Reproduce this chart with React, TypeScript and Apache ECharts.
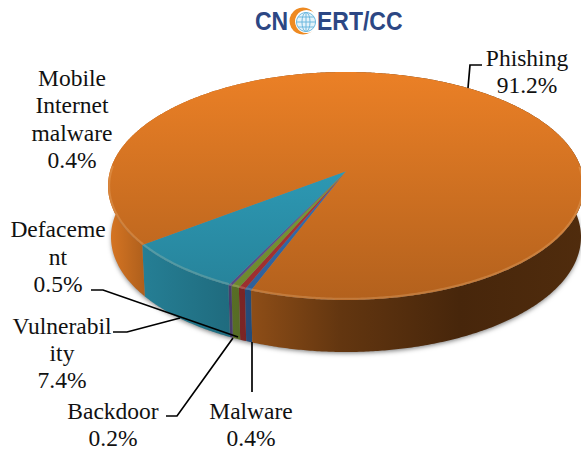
import React, { useEffect, useRef } from "react";
import * as echarts from "echarts";

// Slices, clockwise, starting at the front of the disc
const sliceNames = ["Malware", "Mobile Internet malware", "Defacement", "Backdoor", "Vulnerability", "Phishing"];
const sliceValues = [0.4, 0.4, 0.5, 0.2, 7.4, 91.2];
const sliceColors = ["#3C7DC8", "#C83C3C", "#8CAF3C", "#735FAA", "#32AAC8", "#EB8026"];

// Wrapped label lines as in the reference
const labelLines = [["Malware"], ["Mobile", "Internet", "malware"], ["Defaceme", "nt"], ["Backdoor"], ["Vulnerabil", "ity"], ["Phishing"]];

const W = 581, H = 450;
const FONT = '23.5px "Liberation Serif", "Times New Roman", serif';
const labelPos = [[251, 424.5], [72, 119], [58, 256.5], [113, 424.5], [62, 353], [527, 71.5]];
const leaders = [
  [[252, 342], [252, 392]],
  null,
  [[91, 290], [103, 290], [238, 337]],
  [[166, 416], [177, 416], [233, 338]],
  [[113, 332], [127, 332], [180, 318]],
  [[468, 88], [470, 65], [482, 65]],
];

const TOP = { cx: 346, cy: 186, rx: 238, ry: 114 };
const BOT = { cx: 346, cy: 237, rx: 235, ry: 115 };
const TILT = -0.13;
const START_DEG = 20.7;
const total = sliceValues.reduce((a, b) => a + b, 0);

function shade(hex: string, b: number) {
  const n = parseInt(hex.slice(1), 16);
  const f = (v: number) => Math.round(v * b);
  return `rgb(${f((n >> 16) & 255)},${f((n >> 8) & 255)},${f(n & 255)})`;
}
function project(deg: number, e: typeof TOP): number[] {
  const p = (deg * Math.PI) / 180;
  const dx = -Math.sin(p), dy = Math.cos(p);
  const s = Math.sqrt(1 - TILT * TILT), d = 1 + TILT * dy;
  return [e.cx + e.rx * (dx * s) / d, e.cy + e.ry * (dy + TILT) / d];
}
function arcPts(a: number, b: number, e: typeof TOP) {
  const n = Math.max(2, Math.ceil((b - a) * 2));
  const out: number[][] = [];
  for (let i = 0; i <= n; i++) out.push(project(a + ((b - a) * i) / n, e));
  return out;
}
// Contiguous runs of rim points on the lower part of the disc
function frontRuns(pts: number[][]) {
  const runs: number[][][] = [];
  let cur: number[][] = [];
  pts.forEach((p) => {
    if (p[1] > TOP.cy - 20) cur.push(p);
    else if (cur.length) { runs.push(cur); cur = []; }
  });
  if (cur.length) runs.push(cur);
  return runs;
}
const topFill = (c: string) =>
  new echarts.graphic.LinearGradient(0, 72, 0, 300, [
    { offset: 0, color: shade(c, 1) },
    { offset: 1, color: shade(c, 0.76) },
  ], true);
const wallStops: number[][] = [[108, 0.92], [145, 0.74], [253, 0.6], [340, 0.42], [460, 0.3], [584, 0.34]];
const wallFill = (c: string) =>
  new echarts.graphic.LinearGradient(108, 0, 584, 0,
    wallStops.map(([x, b]) => ({ offset: (x - 108) / (584 - 108), color: shade(c, b) })), true);

function sliceRange(i: number) {
  let acc = 0;
  for (let k = 0; k < i; k++) acc += sliceValues[k];
  const a = START_DEG + (acc / total) * 360;
  return [a, a + (sliceValues[i] / total) * 360];
}

export default function App() {
  const ref = useRef<HTMLDivElement>(null);
  useEffect(() => {
    document.body.style.margin = "0";
    const chart = echarts.init(ref.current!, undefined, { renderer: "svg" });
    const seriesData = sliceValues.map((v, i) => ({ name: sliceNames[i], value: [v, ...sliceRange(i)] }));
    const centre = [TOP.cx, TOP.cy + TOP.ry * TILT];
    const labels = sliceValues.map((v, i) => ({
      type: "text",
      z: 100,
      style: {
        text: [...labelLines[i], v.toFixed(1) + "%"].join("\n"),
        x: labelPos[i][0],
        y: labelPos[i][1],
        align: "center",
        verticalAlign: "middle",
        font: FONT,
        lineHeight: 27.3,
        fill: "#111",
      },
    }));
    const lines = leaders.filter(Boolean).map((pts) => ({
      type: "polyline",
      z: 99,
      shape: { points: pts },
      style: { stroke: "#000", lineWidth: 1.7, fill: "none" },
    }));
    const logoText = (text: string, x: number) => ({
      type: "text",
      z: 100,
      x,
      y: 21.5,
      scaleY: 1.12,
      style: {
        text,
        x: 0,
        y: 0,
        align: "left",
        verticalAlign: "middle",
        font: 'bold 23px "Liberation Sans", Arial, sans-serif',
        fill: "#2C4784",
      },
    });
    const logo = [
      logoText("CN", 255),
      logoText("ERT/CC", 317),
      { type: "circle", z: 100, shape: { cx: 303, cy: 21, r: 13.5 }, style: { fill: "#EE8A22" } },
      { type: "circle", z: 100, shape: { cx: 306.5, cy: 21.5, r: 11.5 }, style: { fill: "#fff" } },
      { type: "circle", z: 100, shape: { cx: 306, cy: 22, r: 9.5 }, style: { fill: "#E4F3FA", stroke: "#6DB8DE", lineWidth: 1 } },
      { type: "ellipse", z: 100, shape: { cx: 306, cy: 22, rx: 4, ry: 9.5 }, style: { fill: "none", stroke: "#6DB8DE", lineWidth: 1 } },
      { type: "line", z: 100, shape: { x1: 296.5, y1: 22, x2: 315.5, y2: 22 }, style: { stroke: "#6DB8DE", lineWidth: 1 } },
      { type: "line", z: 100, shape: { x1: 298, y1: 17, x2: 314, y2: 17 }, style: { stroke: "#6DB8DE", lineWidth: 1 } },
      { type: "line", z: 100, shape: { x1: 298, y1: 27, x2: 314, y2: 27 }, style: { stroke: "#6DB8DE", lineWidth: 1 } },
      { type: "line", z: 100, shape: { x1: 306, y1: 12.5, x2: 306, y2: 31.5 }, style: { stroke: "#6DB8DE", lineWidth: 1 } },
    ];

    chart.setOption({
      animation: false,
      backgroundColor: "#fff",
      graphic: { elements: [...lines, ...labels, ...logo] },
      series: [
        {
          type: "custom",
          coordinateSystem: "none",
          z: 2,
          silent: true,
          data: seriesData,
          renderItem: (params: any, api: any) => {
            const i = params.dataIndex;
            const a = api.value(1), b = api.value(2);
            const pts = [...arcPts(a, b, TOP), ...arcPts(a, b, BOT).reverse()];
            const children: any[] = [];
            if (i === 0) {
              children.push({
                type: "ellipse",
                shape: { cx: BOT.cx, cy: BOT.cy, rx: BOT.rx - 1, ry: BOT.ry - 1 },
                style: { fill: "#888", shadowBlur: 5, shadowColor: "rgba(0,0,0,0.55)", shadowOffsetX: 0, shadowOffsetY: 2 },
              });
            }
            children.push({
              type: "polygon",
              shape: { points: pts },
              style: { fill: wallFill(sliceColors[i]), stroke: null },
            });
            return { type: "group", children };
          },
        },
        {
          type: "custom",
          coordinateSystem: "none",
          z: 3,
          silent: true,
          data: seriesData,
          renderItem: (params: any, api: any) => {
            const i = params.dataIndex;
            const a = api.value(1), b = api.value(2);
            const rim = arcPts(a, b, TOP);
            const inner = { ...TOP, rx: TOP.rx - 1.2, ry: TOP.ry - 1.2 };
            const parts: any[] = [
              {
                type: "polygon",
                shape: { points: [centre, ...rim] },
                style: { fill: topFill(sliceColors[i]), stroke: null },
              },
            ];
            // Bevel highlight only on the front and sides of the rim
            frontRuns(arcPts(a, b, inner)).forEach((seg) =>
              parts.push({
                type: "polyline",
                shape: { points: seg },
                style: { fill: "none", stroke: "rgba(255,225,180,0.2)", lineWidth: 2 },
              })
            );
            return { type: "group", children: parts };
          },
        },
      ],
    } as any);
    return () => chart.dispose();
  }, []);
  return <div ref={ref} style={{ width: W, height: H }} />;
}
